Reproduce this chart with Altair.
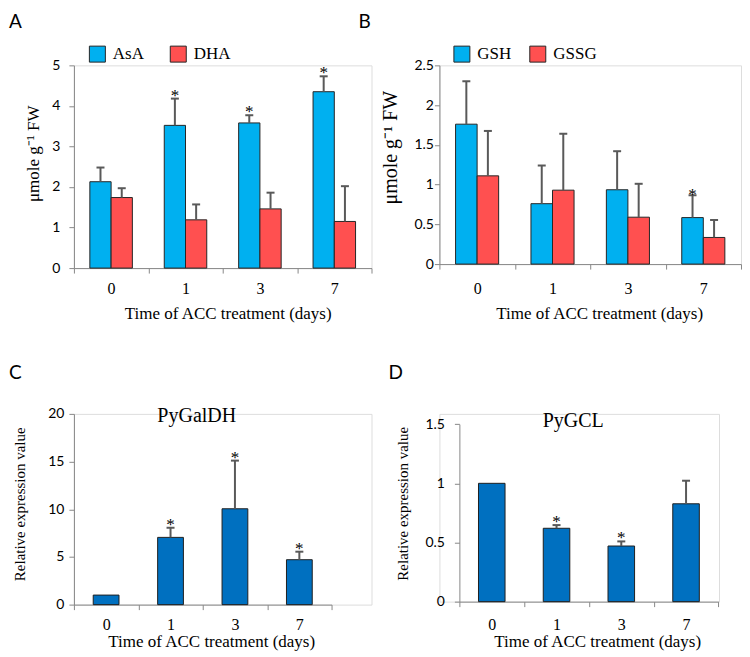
import altair as alt
import pandas as pd

days = ["0", "1", "3", "7"]

# Panel A: ascorbate
a_series = ["AsA", "DHA"]
asa_mean = [2.13, 3.52, 3.58, 4.35]
asa_upper = [2.48, 4.18, 3.77, 4.73]
asa_sig = ["", "*", "*", "*"]
dha_mean = [1.74, 1.19, 1.46, 1.15]
dha_upper = [1.97, 1.57, 1.86, 2.02]
dha_sig = ["", "", "", ""]

# Panel B: glutathione
b_series = ["GSH", "GSSG"]
gsh_mean = [1.76, 0.76, 0.935, 0.585]
gsh_upper = [2.30, 1.24, 1.42, 0.865]
gsh_sig = ["", "", "", "*"]
gssg_mean = [1.11, 0.93, 0.59, 0.335]
gssg_upper = [1.675, 1.64, 1.01, 0.555]
gssg_sig = ["", "", "", ""]

# Panel C: PyGalDH
galdh_mean = [1.0, 7.05, 10.05, 4.71]
galdh_upper = [1.0, 8.06, 15.1, 5.55]
galdh_sig = ["", "*", "*", "*"]

# Panel D: PyGCL
gcl_mean = [1.0, 0.62, 0.47, 0.827]
gcl_upper = [1.0, 0.647, 0.509, 1.022]
gcl_sig = ["", "*", "*", ""]

BLUE = "#00B0F0"
RED = "#FF5050"
DARKBLUE = "#0070C0"
ERR = "#595959"
AXIS = "#8C8C8C"
SERIF = "Liberation Serif"
SANS = "Lato"
XTITLE = "Time of ACC treatment (days)"


def x_axis(label_pad, title_x, title_y):
    return alt.Axis(title=XTITLE, labelAngle=0, tickBand="extent", tickSize=5,
                    labelPadding=label_pad, labelBaseline="middle",
                    labelFont=SERIF, labelFontSize=16, titleFont=SERIF,
                    titleFontSize=17, titleFontWeight="normal",
                    titleX=title_x, titleY=title_y, titleBaseline="middle",
                    titleAlign="center", grid=False)


def y_axis(title, values, label_pad, title_x, title_y, title_size, offset=0):
    return alt.Axis(title=title, values=values, format="~g", grid=False,
                    tickSize=5, labelPadding=label_pad, labelFont=SANS,
                    labelFontSize=14, titleFont=SERIF, titleFontSize=title_size,
                    titleFontWeight="normal", titleAngle=270, titleX=title_x,
                    titleY=title_y, titleBaseline="middle", titleAlign="center",
                    offset=offset)


def letter(text, dx, dy):
    return alt.Chart(pd.DataFrame({"t": [text]})).mark_text(
        font=SANS, fontSize=19, align="left", baseline="top", color="black"
    ).encode(text="t:N", x=alt.value(dx), y=alt.value(dy))


def gene_title(text, cx, cy):
    return alt.Chart(pd.DataFrame({"t": [text]})).mark_text(
        font=SERIF, fontSize=20, align="center", baseline="middle", color="black"
    ).encode(text="t:N", x=alt.value(cx), y=alt.value(cy))


def grouped(names, means, uppers, sigs, colors, ymax, yvals, ytitle, w, h,
            ypad, ytx, yty, ytsize, xpad, xtx, xty, legx, colpad, let, letx, star_dy):
    rows = []
    for n, m, u, s in zip(names, means, uppers, sigs):
        for d, mv, uv, sv in zip(days, m, u, s):
            rows.append(dict(day=d, series=n, mean=mv, upper=uv, sig=sv))
    df = pd.DataFrame(rows)
    x = alt.X("day:N", sort=days, scale=alt.Scale(paddingInner=0, paddingOuter=0),
              axis=x_axis(xpad, xtx, xty))
    xo = alt.XOffset("series:N", sort=names,
                     scale=alt.Scale(paddingOuter=0.75, paddingInner=0))
    yax = y_axis(ytitle, yvals, ypad, ytx, yty, ytsize)
    ysc = alt.Scale(domain=[0, ymax], nice=False)
    base = alt.Chart(df)
    bars = base.mark_bar(stroke="#262626", strokeWidth=1).encode(
        x=x, xOffset=xo,
        y=alt.Y("mean:Q", scale=ysc, axis=yax),
        color=alt.Color("series:N", scale=alt.Scale(domain=names, range=colors),
                        legend=alt.Legend(title=None, orient="none", legendX=legx,
                                          legendY=-20, direction="horizontal",
                                          symbolType="square", symbolSize=256,
                                          symbolStrokeColor="#262626",
                                          symbolStrokeWidth=1, symbolOpacity=1,
                                          labelFont=SERIF, labelFontSize=17,
                                          labelOffset=7, columnPadding=colpad,
                                          padding=0)),
    )
    err = base.transform_filter("datum.upper > datum.mean").mark_rule(
        color=ERR, strokeWidth=2).encode(
        x=x, xOffset=xo, y=alt.Y("mean:Q", scale=ysc, axis=yax), y2="upper:Q")
    cap = base.transform_filter("datum.upper > datum.mean").mark_tick(
        color=ERR, thickness=2, size=8, opacity=1).encode(
        x=x, xOffset=xo, y=alt.Y("upper:Q", scale=ysc, axis=yax))
    star = base.transform_filter("datum.sig != ''").mark_text(
        font=SERIF, fontSize=17, baseline="alphabetic", dy=star_dy, color="black").encode(
        x=x, xOffset=xo, y=alt.Y("upper:Q", scale=ysc, axis=yax), text="sig:N")
    return alt.layer(bars, err, cap, star, letter(let, letx, -52)).properties(
        width=w, height=h)


def single(means, uppers, sigs, domain_max, yvals, w, h, xrange, yrange, yoff,
           ypad, ytx, yty, xpad, xtx, xty, gene, gx, gy, let, letx, star_dy, band):
    df = pd.DataFrame(dict(day=days, mean=means, upper=uppers, sig=sigs))
    xsc = alt.Scale(paddingInner=0, paddingOuter=0, range=xrange)
    x = alt.X("day:N", sort=days, scale=xsc, axis=x_axis(xpad, xtx, xty))
    ysc = alt.Scale(domain=[0, domain_max], nice=False, range=yrange)
    yax = y_axis("Relative expression value", yvals, ypad, ytx, yty, 15, yoff)
    base = alt.Chart(df)
    bars = base.mark_bar(color=DARKBLUE, stroke="#1F1F1F", strokeWidth=1,
                         width=alt.RelativeBandSize(band)).encode(
        x=x, y=alt.Y("mean:Q", scale=ysc, axis=yax))
    err = base.transform_filter("datum.upper > datum.mean").mark_rule(
        color=ERR, strokeWidth=2).encode(
        x=x, y=alt.Y("mean:Q", scale=ysc, axis=yax), y2="upper:Q")
    cap = base.transform_filter("datum.upper > datum.mean").mark_tick(
        color=ERR, thickness=2, size=8, opacity=1).encode(
        x=x, y=alt.Y("upper:Q", scale=ysc, axis=yax))
    star = base.transform_filter("datum.sig != ''").mark_text(
        font=SERIF, fontSize=17, baseline="alphabetic", dy=star_dy, color="black").encode(
        x=x, y=alt.Y("upper:Q", scale=ysc, axis=yax), text="sig:N")
    return alt.layer(bars, err, cap, star, gene_title(gene, gx, gy),
                     letter(let, letx, -50)).properties(width=w, height=h)


panel_a = grouped(a_series, [asa_mean, dha_mean], [asa_upper, dha_upper],
                  [asa_sig, dha_sig], [BLUE, RED], 5, [0, 1, 2, 3, 4, 5],
                  "μmole g⁻¹ FW", 298, 203, 9, -40.5, 88, 17,
                  15, 154, 45, 15, 23, "A", -65, 2)
panel_b = grouped(b_series, [gsh_mean, gssg_mean], [gsh_upper, gssg_upper],
                  [gsh_sig, gssg_sig], [BLUE, RED], 2.5, [0, 0.5, 1, 1.5, 2, 2.5],
                  "μmole g⁻¹ FW", 302, 199, 1, -49, 82, 20,
                  19, 160, 49, 14, 15, "B", -81, 5)
panel_c = single(galdh_mean, galdh_upper, galdh_sig, 20, [0, 5, 10, 15, 20],
                 298, 191, [0, 258], [191, 0], 0, 5, -54, 90, 15, 137.5, 37,
                 "PyGalDH", 123, 2, "C", -65, 2, 0.4)
panel_d = single(gcl_mean, gcl_upper, gcl_sig, 1.5, [0, 0.5, 1, 1.5],
                 280, 188, [20, 279.4], [188, 10.3], -20, 10, -57, 89.5, 18, 158, 40,
                 "PyGCL", 134, 7, "D", -51, 2, 0.41)

chart = alt.concat(
    panel_a, panel_b, panel_c, panel_d,
    columns=2,
    spacing={"row": 146, "column": 68},
    align={"row": "all", "column": "none"},
    bounds="flush",
    padding={"top": 4, "left": 0, "right": 0, "bottom": 0},
).resolve_scale(
    color="independent", xOffset="independent"
).configure_view(stroke=None).configure_axis(
    domainColor=AXIS, tickColor=AXIS, labelColor="black", titleColor="black"
).configure(font=SERIF)

chart.save("out.html", embed_options={"renderer": "svg", "actions": False})
